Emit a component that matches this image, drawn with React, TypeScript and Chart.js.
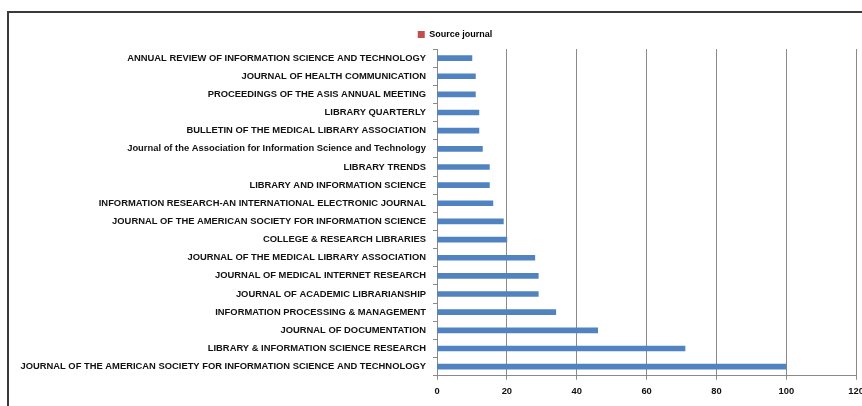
import React, { useEffect, useRef } from "react";
import { Chart, registerables } from "chart.js";

Chart.register(...registerables);

const categories = [
  "ANNUAL REVIEW OF INFORMATION SCIENCE AND TECHNOLOGY",
  "JOURNAL OF HEALTH COMMUNICATION",
  "PROCEEDINGS OF THE ASIS ANNUAL MEETING",
  "LIBRARY QUARTERLY",
  "BULLETIN OF THE MEDICAL LIBRARY ASSOCIATION",
  "Journal of the Association for Information Science and Technology",
  "LIBRARY TRENDS",
  "LIBRARY AND INFORMATION SCIENCE",
  "INFORMATION RESEARCH-AN INTERNATIONAL ELECTRONIC JOURNAL",
  "JOURNAL OF THE AMERICAN SOCIETY FOR INFORMATION SCIENCE",
  "COLLEGE & RESEARCH LIBRARIES",
  "JOURNAL OF THE MEDICAL LIBRARY ASSOCIATION",
  "JOURNAL OF MEDICAL INTERNET RESEARCH",
  "JOURNAL OF ACADEMIC LIBRARIANSHIP",
  "INFORMATION PROCESSING & MANAGEMENT",
  "JOURNAL OF DOCUMENTATION",
  "LIBRARY & INFORMATION SCIENCE RESEARCH",
  "JOURNAL OF THE AMERICAN SOCIETY FOR INFORMATION SCIENCE AND TECHNOLOGY",
];

const sourceJournal = [10, 11, 11, 12, 12, 13, 15, 15, 16, 19, 20, 28, 29, 29, 34, 46, 71, 100];

const seriesName = "Source journal";
const xMin = 0;
const xMax = 120;
const xStep = 20;

export default function App() {
  const ref = useRef<HTMLCanvasElement | null>(null);

  useEffect(() => {
    if (!ref.current) return;
    const font = { family: "'Liberation Sans', Arial, sans-serif", size: 9.4, weight: "bold" as const };
    const chart = new Chart(ref.current, {
      type: "bar",
      data: {
        labels: categories,
        datasets: [
          {
            label: seriesName,
            data: sourceJournal,
            backgroundColor: "#5183C1",
            borderWidth: 0,
            barThickness: 5,
          },
        ],
      },
      options: {
        indexAxis: "y",
        responsive: false,
        animation: false,
        devicePixelRatio: 1,
        layout: { padding: { top: 26, left: 40, right: 0, bottom: 3 } },
        plugins: {
          tooltip: { enabled: false },
          legend: {
            display: true,
            position: "top",
            labels: {
              boxWidth: 7,
              boxHeight: 7,
              padding: 4,
              color: "#222",
              font: { family: "'Liberation Sans', Arial, sans-serif", size: 9, weight: "bold" },
              generateLabels: () => [
                {
                  text: seriesName,
                  fillStyle: "#C0504D",
                  strokeStyle: "#C0504D",
                  lineWidth: 0,
                  hidden: false,
                  datasetIndex: 0,
                },
              ],
            },
          },
        },
        scales: {
          x: {
            min: xMin,
            max: xMax,
            ticks: { stepSize: xStep, color: "#111", font, padding: 6 },
            grid: { color: "#8a8a8a", lineWidth: 1, tickLength: 4, drawTicks: true },
            border: { color: "#8a8a8a", width: 1 },
          },
          y: {
            afterFit: (scale: any) => {
              scale.width = 397;
              scale._computeLabelArea = () => undefined;
            },
            ticks: { color: "#111", font, padding: 7, autoSkip: false },
            grid: { drawOnChartArea: false, offset: true, color: "#8a8a8a", tickLength: 4 },
            border: { color: "#8a8a8a", width: 1 },
          },
        },
      },
    });
    return () => chart.destroy();
  }, []);

  return (
    <div style={{ position: "absolute", left: 0, top: 0, width: 862, height: 406, overflow: "hidden", background: "#fff" }}>
      <div
        style={{
          position: "absolute",
          left: 7,
          top: 11,
          width: 870,
          height: 420,
          borderLeft: "2px solid #3a3a3a",
          borderTop: "2px solid #3a3a3a",
        }}
      />
      <canvas ref={ref} width={870} height={406} style={{ position: "absolute", left: 0, top: 0 }} />
    </div>
  );
}
